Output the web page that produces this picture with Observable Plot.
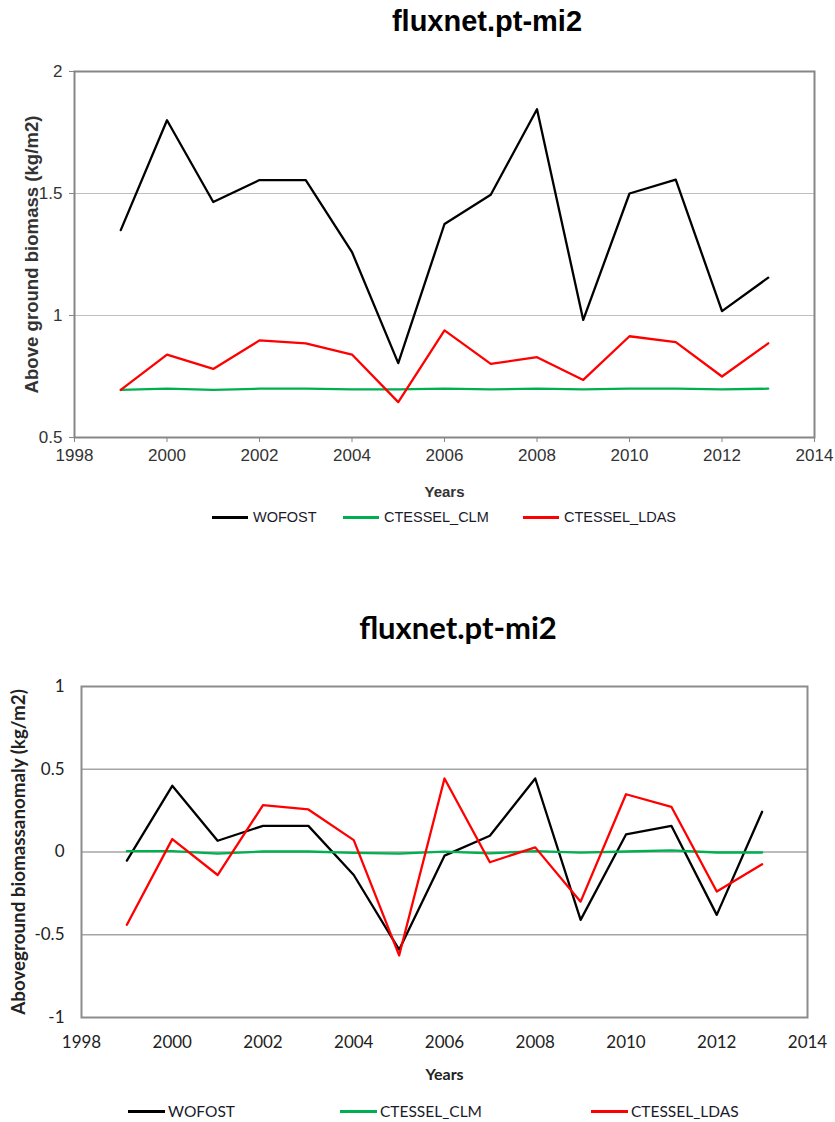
<!DOCTYPE html>
<html><head><meta charset="utf-8">
<script src="https://cdn.jsdelivr.net/npm/d3@7"></script>
<script src="https://cdn.jsdelivr.net/npm/@observablehq/plot@0.6"></script>
<style>
body{margin:0;background:#fff;}
#root{position:relative;width:835px;height:1122px;overflow:hidden;background:#fff;}
.abs{position:absolute;}
.t1{font-family:"Liberation Sans",Arial,sans-serif;font-weight:bold;font-size:29px;color:#000;white-space:nowrap;}
.t2{font-family:Lato,"Open Sans",sans-serif;font-weight:bold;font-size:31px;color:#000;white-space:nowrap;}
.leg{display:flex;align-items:center;white-space:nowrap;}
.leg span.ln{display:inline-block;height:3px;}
.c1 g[aria-label="x-axis label"] text{font-weight:bold;font-size:15px;}
.c1 g[aria-label="y-axis label"] text{font-weight:bold;font-size:18.6px;}
.c2 g[aria-label="x-axis label"] text{font-weight:bold;font-size:16px;}
.c2 g[aria-label="y-axis label"] text{font-weight:bold;font-size:18.8px;}
</style></head>
<body><div id="root"></div>
<script>
// ---- data ----
const years = [1999,2000,2001,2002,2003,2004,2005,2006,2007,2008,2009,2010,2011,2012,2013];
const seriesNames = ["WOFOST","CTESSEL_CLM","CTESSEL_LDAS"];
const seriesColors = ["#000000","#00b050","#ff0000"];
// chart 1: above ground biomass (kg/m2)
const biomassWofost = [1.35,1.80,1.465,1.555,1.555,1.26,0.805,1.375,1.495,1.845,0.982,1.50,1.557,1.018,1.155];
const biomassClm    = [0.695,0.70,0.695,0.70,0.70,0.697,0.697,0.70,0.697,0.70,0.697,0.70,0.70,0.697,0.70];
const biomassLdas   = [0.695,0.84,0.781,0.898,0.886,0.84,0.645,0.939,0.802,0.829,0.736,0.915,0.891,0.75,0.886];
// chart 2: above ground biomass anomaly (kg/m2)
const anomalyWofost = [-0.052,0.40,0.068,0.158,0.158,-0.139,-0.59,-0.022,0.098,0.444,-0.41,0.106,0.158,-0.38,0.243];
const anomalyClm    = [0.005,0.005,-0.01,0.003,0.003,-0.005,-0.01,0.002,-0.008,0.005,-0.004,0.003,0.01,-0.003,-0.003];
const anomalyLdas   = [-0.44,0.078,-0.139,0.283,0.257,0.072,-0.625,0.444,-0.062,0.028,-0.30,0.349,0.273,-0.239,-0.074];
// axes
const xTicks = [1998,2000,2002,2004,2006,2008,2010,2012,2014];
const y1Ticks = [0.5,1,1.5,2];
const y1Grid = [1,1.5];
const y2Ticks = [-1,-0.5,0,0.5,1];
const y2Grid = [-0.5,0,0.5];
const title = "fluxnet.pt-mi2";
const xLabel = "Years";
const y1Label = "Above ground biomass (kg/m2)";
const y2Label = "Aboveground biomassanomaly (kg/m2)";

function rows(list){
  const out = [];
  list.forEach((vals, s) => vals.forEach((v, i) => out.push({year: years[i], value: v, series: seriesNames[s]})));
  return out;
}
const root = document.getElementById("root");
const place = (el, css) => { el.classList.add("abs"); Object.assign(el.style, css); root.appendChild(el); return el; };
const fmtYear = d => String(d);
const fmtNum = d => String(d);

// ---- chart 1 ----
const t1 = document.createElement("div"); t1.className = "t1"; t1.textContent = title;
place(t1, {left: "0px", width: "974px", top: "5px", textAlign: "center"});

const p1 = Plot.plot({
  width: 835, height: 470,
  marginLeft: 74, marginRight: 21, marginTop: 31, marginBottom: 73,
  style: {fontFamily: "'Liberation Sans', Arial, sans-serif", fontSize: "17px", background: "transparent"},
  x: {domain: [1998, 2014]},
  y: {domain: [0.5, 2]},
  color: {domain: seriesNames, range: seriesColors},
  marks: [
    Plot.gridY(y1Grid, {stroke: "#bfbfbf", strokeOpacity: 1, strokeWidth: 1}),
    Plot.axisY({ticks: y1Ticks, tickSize: 5, tickPadding: 7, tickFormat: fmtNum, stroke: "#868686", fill: "#333",
      label: y1Label, labelAnchor: "center", labelOffset: 50, labelArrow: "none"}),
    Plot.axisX({ticks: xTicks, tickSize: 5, tickPadding: 6, tickFormat: fmtYear, stroke: "#868686", fill: "#333",
      label: xLabel, labelAnchor: "center", labelOffset: 59, labelArrow: "none"}),
    Plot.line(rows([biomassWofost, biomassClm, biomassLdas]), {x: "year", y: "value", stroke: "series", strokeWidth: 2.3, z: "series"}),
    Plot.frame({stroke: "#868686", strokeWidth: 2})
  ]
});
p1.classList.add("c1");
place(p1, {left: "0px", top: "40px"});

function legend(top, items, font, size, lineW, gapAfterLine){
  items.forEach(it => {
    const d = document.createElement("div"); d.className = "leg";
    Object.assign(d.style, {fontFamily: font, fontSize: size, color: "#1a1a2a"});
    const ln = document.createElement("span"); ln.className = "ln";
    ln.style.width = lineW + "px"; ln.style.background = it.color; ln.style.marginRight = gapAfterLine + "px";
    const tx = document.createElement("span"); tx.textContent = it.name;
    d.appendChild(ln); d.appendChild(tx);
    place(d, {left: it.left + "px", top: top + "px", height: "20px"});
  });
}
legend(507, seriesNames.map((n, i) => ({name: n, color: seriesColors[i], left: [212, 343, 523][i]})),
  "'Liberation Sans', Arial, sans-serif", "14.5px", 36, 5);

// ---- chart 2 ----
const t2 = document.createElement("div"); t2.className = "t2"; t2.textContent = title;
place(t2, {left: "0px", width: "916px", top: "608px", textAlign: "center"});

const p2 = Plot.plot({
  width: 835, height: 440,
  marginLeft: 81, marginRight: 28, marginTop: 36, marginBottom: 73,
  style: {fontFamily: "Lato, 'Open Sans', sans-serif", fontSize: "17px", background: "transparent"},
  x: {domain: [1998, 2014]},
  y: {domain: [-1, 1]},
  color: {domain: seriesNames, range: seriesColors},
  marks: [
    Plot.gridY(y2Grid, {stroke: "#a6a6a6", strokeOpacity: 1, strokeWidth: 1.3}),
    Plot.axisY({ticks: y2Ticks, tickSize: 0, tickPadding: 17, tickFormat: fmtNum, fill: "#222",
      label: y2Label, labelAnchor: "center", labelOffset: 70, labelArrow: "none"}),
    Plot.axisX({ticks: xTicks, tickSize: 0, tickPadding: 18, tickFormat: fmtYear, fill: "#222",
      label: xLabel, labelAnchor: "center", labelOffset: 62, labelArrow: "none"}),
    Plot.line(rows([anomalyWofost, anomalyClm, anomalyLdas]), {x: "year", y: "value", stroke: "series", strokeWidth: 2.3, z: "series"}),
    Plot.frame({stroke: "#8c8c8c", strokeWidth: 2})
  ]
});
p2.classList.add("c2");
place(p2, {left: "0px", top: "650px"});

legend(1101, seriesNames.map((n, i) => ({name: n, color: seriesColors[i], left: [128, 340, 591][i]})),
  "Lato, 'Open Sans', sans-serif", "15.5px", 37, 3);
</script>
</body></html>
